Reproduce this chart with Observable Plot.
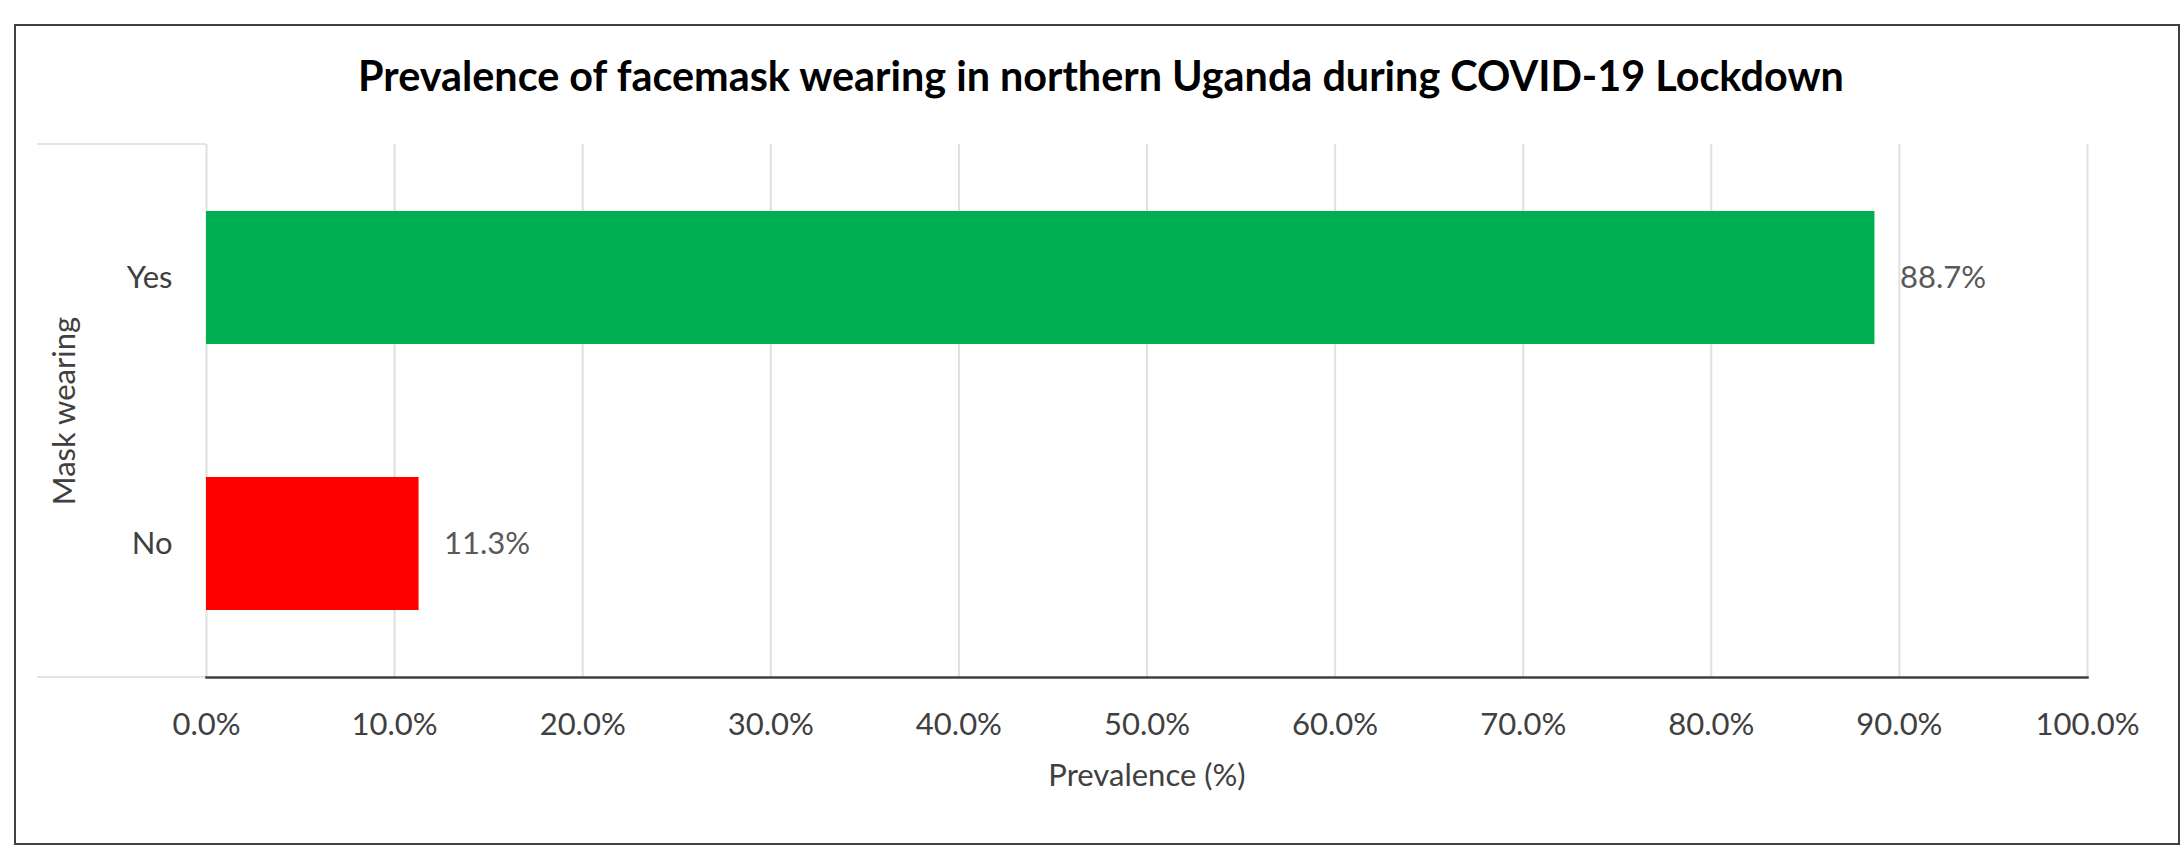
<!DOCTYPE html>
<html>
<head>
<meta charset="utf-8">
<script src="https://cdn.jsdelivr.net/npm/d3@7"></script>
<script src="https://cdn.jsdelivr.net/npm/@observablehq/plot@0.6"></script>
<style>
  html, body { margin: 0; padding: 0; background: #ffffff; }
  #wrap { position: relative; width: 2184px; height: 848px; overflow: hidden; background: #ffffff; font-family: Lato, "Open Sans", sans-serif; }
  #frame { position: absolute; left: 14px; top: 24px; width: 2166px; height: 821px; box-sizing: border-box; border: 2px solid #404040; }
  #title { position: absolute; left: 18px; width: 2166px; top: 58px; text-align: center; font-weight: 700; color: #000; line-height: 1; white-space: nowrap; }
  .faint { position: absolute; height: 2px; background: #e4e4e4; }
  #chart { position: absolute; left: 0; top: 110px; }
</style>
</head>
<body>
<div id="wrap">
  <div id="frame"></div>
  <div id="title"></div>
  <div class="faint" style="left:37px; width:169px; top:143px;"></div>
  <div class="faint" style="left:37px; width:169px; top:676px;"></div>
  <div id="chart"></div>
</div>
<script>
// ---- data ----
const titleText = "Prevalence of facemask wearing in northern Uganda during COVID-19 Lockdown";
const categories = ["Yes", "No"];
const prevalence = [88.7, 11.3];
const barColors = ["#00B050", "#FF0000"];
const xTicks = [0, 10, 20, 30, 40, 50, 60, 70, 80, 90, 100];
const xLabel = "Prevalence (%)";
const yLabel = "Mask wearing";

const data = categories.map((c, i) => ({category: c, value: prevalence[i]}));
const pct = d => d.toFixed(1) + "%";

// title sized to match the reference width
const title = document.getElementById("title");
title.textContent = titleText;
const ctx = document.createElement("canvas").getContext("2d");
ctx.font = "700 100px Lato";
const w100 = ctx.measureText(titleText).width;
const titleSize = 100 * 1488 / w100;
title.style.fontSize = titleSize + "px";
title.style.top = (92 - 0.887 * titleSize) + "px";

const chart = Plot.plot({
  width: 2184,
  height: 738,
  marginLeft: 206,
  marginRight: 97,
  marginTop: 34,
  marginBottom: 171,
  style: {fontFamily: "Lato, 'Open Sans', sans-serif", fontSize: "31px", color: "#404040", background: "transparent"},
  x: {domain: [0, 100], ticks: xTicks, tickFormat: pct, label: null},
  y: {domain: categories, paddingInner: 0.5, paddingOuter: 0.25, label: null},
  color: {domain: categories, range: barColors},
  marks: [
    Plot.gridX(xTicks, {stroke: "#e0e0e0", strokeOpacity: 1, strokeWidth: 2}),
    Plot.barX(data, {x: "value", y: "category", fill: "category"}),
    Plot.frame({anchor: "bottom", stroke: "#404040", strokeWidth: 2.5}),
    Plot.axisX(xTicks, {tickSize: 0, tickPadding: 35, tickFormat: pct, label: null, fill: "#404040"}),
    Plot.axisY({tickSize: 0, tickPadding: 34, label: null, fill: "#404040"}),
    Plot.text(data, {x: "value", y: "category", text: d => pct(d.value), dx: 25, textAnchor: "start", fill: "#595959"}),
    Plot.text([xLabel], {frameAnchor: "bottom", text: d => d, dy: 108, textAnchor: "middle", fill: "#404040"}),
    Plot.text([yLabel], {frameAnchor: "left", text: d => d, dx: -141, rotate: -90, textAnchor: "middle", fill: "#404040"})
  ]
});
document.getElementById("chart").appendChild(chart);
</script>
</body>
</html>
